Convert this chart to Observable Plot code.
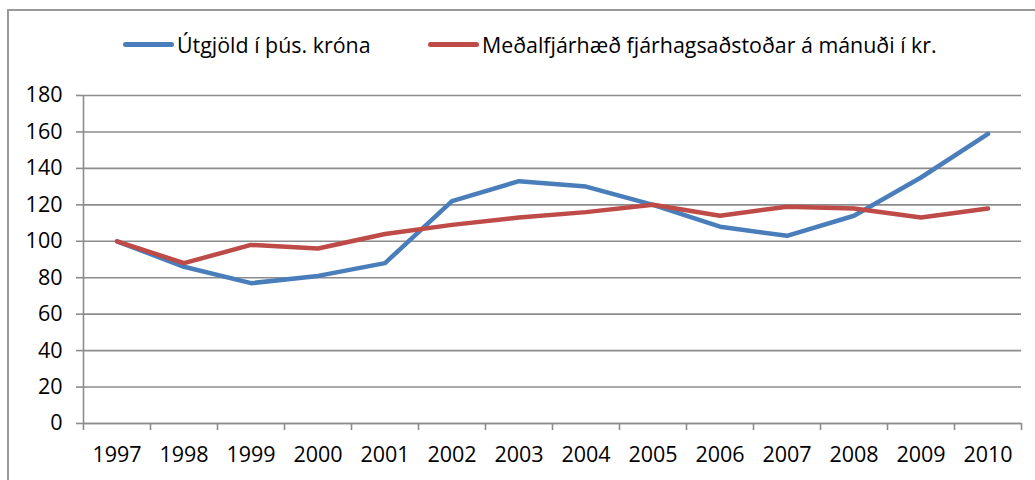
<!DOCTYPE html>
<html>
<head>
<meta charset="utf-8">
<script src="https://cdn.jsdelivr.net/npm/d3@7"></script>
<script src="https://cdn.jsdelivr.net/npm/@observablehq/plot@0.6"></script>
<style>
  html, body { margin: 0; padding: 0; background: #fff; overflow: hidden; }
  body { width: 1035px; height: 480px; position: relative; font-family: "Open Sans", sans-serif; }
  #frame { position: absolute; left: 7px; top: 9px; width: 1100px; height: 600px; border: 2px solid #999; box-sizing: border-box; pointer-events: none; }
  #legend { position: absolute; left: 0; top: 0; width: 1035px; height: 70px; }
  .item { position: absolute; top: 30px; display: flex; align-items: center; font-size: 21.4px; color: #000; white-space: nowrap; }
  .sw { display: inline-block; width: 51px; height: 5px; border-radius: 3px; margin-right: 3px; }
  #chart { position: absolute; left: 0; top: 70px; }
</style>
</head>
<body>
<div id="frame"></div>
<div id="legend"></div>
<div id="chart"></div>
<script>
const years = [1997, 1998, 1999, 2000, 2001, 2002, 2003, 2004, 2005, 2006, 2007, 2008, 2009, 2010];
const utgjold = [100, 86, 77, 81, 88, 122, 133, 130, 120, 108, 103, 114, 135, 159];
const medal = [100, 88, 98, 96, 104, 109, 113, 116, 120, 114, 119, 118, 113, 118];
const seriesNames = ["Útgjöld í þús. króna", "Meðalfjárhæð fjárhagsaðstoðar á mánuði í kr."];
const seriesColors = ["#4a7ebb", "#be4b48"];
const yTicks = [0, 20, 40, 60, 80, 100, 120, 140, 160, 180];

const data = [];
years.forEach((yr, i) => {
  data.push({year: yr, value: utgjold[i], series: seriesNames[0]});
  data.push({year: yr, value: medal[i], series: seriesNames[1]});
});

// legend
const legend = document.getElementById("legend");
const legendLeft = [123, 428];
seriesNames.forEach((name, i) => {
  const el = document.createElement("div");
  el.className = "item";
  el.style.left = legendLeft[i] + "px";
  el.innerHTML = `<span class="sw" style="background:${seriesColors[i]}"></span><span>${name}</span>`;
  legend.appendChild(el);
});

const bounds = years.map(y => y - 0.5).concat([years[years.length - 1] + 0.5]);

const chart = Plot.plot({
  width: 1035,
  height: 410,
  marginTop: 25,
  marginBottom: 57,
  marginLeft: 83,
  marginRight: 14,
  style: {fontFamily: "Open Sans, sans-serif", fontSize: "21.5px", color: "#000", background: "transparent"},
  x: {type: "linear", domain: [bounds[0], bounds[bounds.length - 1]]},
  y: {domain: [0, 180]},
  color: {domain: seriesNames, range: seriesColors},
  marks: [
    Plot.gridY(yTicks, {stroke: "#8c8c8c", strokeOpacity: 1, strokeWidth: 1.6}),
    Plot.ruleX([bounds[0]], {stroke: "#8c8c8c", strokeWidth: 1.6}),
    Plot.ruleY([0], {stroke: "#8c8c8c", strokeWidth: 1.6}),
    Plot.axisY(yTicks, {tickSize: 7, tickPadding: 14, stroke: "#8c8c8c", strokeWidth: 1.6, tickFormat: d => d, fill: "#000", label: null}),
    Plot.axisX(bounds, {tickSize: 7, stroke: "#8c8c8c", strokeWidth: 1.6, tickFormat: () => "", label: null}),
    Plot.axisX(years, {tickSize: 0, tickPadding: 23, tickFormat: d => String(d), fill: "#000", label: null}),
    Plot.line(data, {x: "year", y: "value", z: "series", stroke: "series", strokeWidth: 4.5, strokeLinejoin: "round", strokeLinecap: "round"})
  ]
});
document.getElementById("chart").appendChild(chart);
</script>
</body>
</html>
